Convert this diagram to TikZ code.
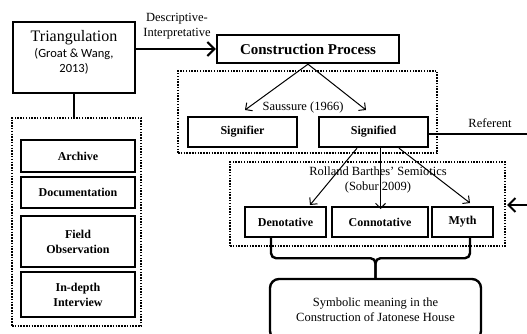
\documentclass[tikz,border=0pt]{standalone}
\usepackage{fontspec}
\setmainfont{Liberation Serif}
\newfontfamily\calibrifont{Carlito}
\usetikzlibrary{arrows.meta}
\begin{document}
\begin{tikzpicture}[x=1pt,y=-1pt,
  box/.style={draw, line width=2.4pt, inner sep=0pt, align=center,
    font=\fontsize{12}{15}\selectfont\bfseries},
  dotbox/.style={draw, line width=1.5pt, dash pattern=on 1.5pt off 1.3pt, inner sep=0pt},
  thinarrow/.style={line width=1pt, -{Straight Barb[length=5pt,width=10pt]}},
  thickarrow/.style={line width=2pt, -{Straight Barb[length=7pt,width=14pt]}},
  lbl/.style={inner sep=0pt, align=center, font=\fontsize{12.5}{15}\selectfont}]
\useasboundingbox (0,0) rectangle (527,334);
\clip (0,0) rectangle (527,334);

% Triangulation
\node[box, minimum width=122pt, minimum height=71pt] (tri) at (74,57.5) {};
\node[lbl] (tritxt) at (74,52) {{\fontsize{16}{16}\selectfont Triangulation}\\[1pt]
  {\calibrifont\fontsize{12.5}{15}\selectfont (Groat \& Wang,}\\
  {\calibrifont\fontsize{12.5}{15}\selectfont 2013)}};

% left group
\node[dotbox, minimum width=129pt, minimum height=208pt] (leftgrp) at (76.5,222) {};
\node[box, minimum width=114pt, minimum height=32pt] (archive) at (78,156) {Archive};
\node[box, minimum width=114pt, minimum height=31pt] (doc) at (78,192.5) {Documentation};
\node[box, minimum width=114pt, minimum height=51pt] (field) at (78,241.5) {Field\\Observation};
\node[box, minimum width=114pt, minimum height=45pt] (indepth) at (78,294.5) {In-depth\\Interview};
\draw[line width=2.4pt] (tri.south) -- (tri.south |- leftgrp.north);

% Construction process
\node[box, minimum width=182pt, minimum height=28pt, font=\fontsize{15}{18}\selectfont\bfseries] (cp) at (308,49) {Construction Process};
\draw[thickarrow] (tri.east |- cp.west) -- (cp.west);
\node[lbl] (desc) at (177,26.5) {Descriptive-\\Interpretative};

% Saussure
\node[dotbox, minimum width=259pt, minimum height=82pt] (sausgrp) at (307.5,112) {};
\node[box, minimum width=109pt, minimum height=30pt] (signifier) at (242.5,132) {Signifier};
\node[box, minimum width=109pt, minimum height=30pt] (signified) at (373.5,132) {Signified};
\coordinate (sL) at (245,110);
\coordinate (sR) at (366,110);
\draw[thinarrow] (cp.south) -- (sL);
\draw[thinarrow] (cp.south) -- (sR);
\node[lbl] (saus) at (303,107) {Saussure (1966)};

% Referent
\coordinate (refend) at (530,134);
\draw[line width=2pt] (signified.east |- refend) -- (refend);
\node[lbl] (referent) at (490,123) {Referent};

% Barthes
\node[dotbox, minimum width=275pt, minimum height=84pt] (bartgrp) at (367.5,204) {};
\node[box, minimum width=81pt, minimum height=30pt] (den) at (285.5,222) {Denotative};
\node[box, minimum width=96pt, minimum height=30pt] (con) at (380,222) {Connotative};
\node[box, minimum width=61pt, minimum height=30pt] (myth) at (462.5,222) {Myth};
\node[lbl] (barthes) at (378,180) {Rolland Barthes' Semiotics\\(Sobur 2009)};
\coordinate (bD) at (310,205);
\coordinate (bC) at (380.5,209);
\coordinate (bM) at (470,203);
\draw[thinarrow] ([xshift=-16.5pt]signified.south) -- (bD);
\draw[thinarrow] ([xshift=7pt]signified.south) -- (bC);
\draw[thinarrow] ([xshift=25.5pt]signified.south) -- (bM);
\coordinate (refin) at (530,205);
\draw[thickarrow] (refin) -- (507,205);

% Symbolic meaning
\node[draw, line width=2.4pt, rounded corners=9pt, minimum width=211pt, minimum height=61pt,
  inner sep=0pt, align=center, font=\fontsize{12.5}{15}\selectfont] (sym) at (375.5,309.5)
  {Symbolic meaning in the\\Construction of Jatonese House};
\draw[line width=2.4pt, rounded corners=5pt] ([xshift=-14.5pt]den.south) -- ++(0,20) -| (sym.north);
\draw[line width=2.4pt, rounded corners=5pt] ([xshift=7.5pt]myth.south) -- ++(0,20) -| (sym.north);
\end{tikzpicture}
\end{document}
